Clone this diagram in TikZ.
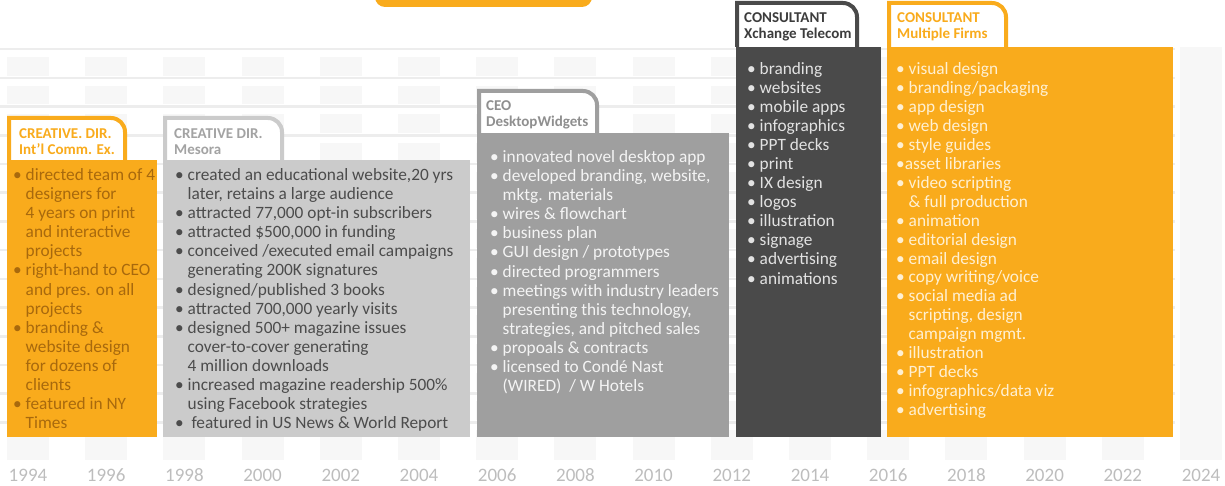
\documentclass[tikz,border=0pt]{standalone}
\usepackage{fontspec}
\setmainfont{Carlito}

\definecolor{cvorange}{HTML}{F9AB1C}
\definecolor{lightbox}{HTML}{CBCBCB}
\definecolor{midbox}{HTML}{9F9F9F}
\definecolor{darkbox}{HTML}{4A4A4A}
\definecolor{colbg}{HTML}{F7F7F7}
\definecolor{rowline}{HTML}{EDEDED}
\definecolor{yeargrey}{HTML}{BDBDBD}
\definecolor{txtone}{HTML}{A8690D}
\definecolor{txttwo}{HTML}{4C4C4C}
\definecolor{txtthree}{HTML}{F4F4F4}
\definecolor{txtfour}{HTML}{E2E2E2}
\definecolor{txtfive}{HTML}{FFF0D2}
\definecolor{tabtwo}{HTML}{A3A3A3}
\definecolor{tabthree}{HTML}{8F8F8F}
\definecolor{tabfour}{HTML}{3C3C3C}

\newcommand{\ind}{\hphantom{•\ }}

\tikzset{
  bodytxt/.style={anchor=base west, inner sep=0pt, font=\fontsize{17.3}{19}\selectfont},
  tabtxt/.style={anchor=base west, inner sep=0pt, font=\bfseries\fontsize{15}{16}\selectfont},
  yeartxt/.style={anchor=base, inner sep=0pt, text=yeargrey, font=\fontsize{19}{20}\selectfont},
  tabline/.style={line width=4pt, fill=white},
}

\begin{document}
\begin{tikzpicture}[x=1pt, y=-1pt]
	\useasboundingbox (0,0) rectangle (1225,486);
	% background grid
	\foreach \i in {0,...,15}
		\fill[colbg] ({7+78.2*\i},47) rectangle ++(42,413);
	\foreach \j in {0,...,13} {
		\fill[white] (0,{47+28.7*\j}) rectangle (1175,{57+28.7*\j});
		\fill[rowline] (0,{48+28.7*\j}) rectangle (1175,{50.5+28.7*\j});
	}
	% clipped tab at the top
	\fill[cvorange, rounded corners=10] (375,-20) rectangle (592,7);
	% tabs
	\draw[tabline, draw=cvorange] (9,160) -- (9,118) -- (111,118) arc[start angle=270, end angle=360, radius=14] -- (125,160);
	\draw[tabline, draw=lightbox] (165,160) -- (165,118) -- (268,118) arc[start angle=270, end angle=360, radius=14] -- (282,160);
	\draw[tabline, draw=midbox] (479,133) -- (479,91) -- (583,91) arc[start angle=270, end angle=360, radius=14] -- (597,133);
	\draw[tabline, draw=darkbox] (737,47) -- (737,3) -- (843,3) arc[start angle=270, end angle=360, radius=14] -- (857,47);
	\draw[tabline, draw=cvorange] (889,47) -- (889,3) -- (992,3) arc[start angle=270, end angle=360, radius=14] -- (1006,47);
	% boxes
	\fill[cvorange] (7,160) rectangle (157,437);
	\fill[lightbox] (163,160) rectangle (470,437);
	\fill[midbox] (477,133) rectangle (729,437);
	\fill[darkbox] (736,47) rectangle (881,437);
	\fill[cvorange] (887,47) rectangle (1173,437);
	% tab titles
	\node[tabtxt, text=cvorange] (t1a) at (19,139) {CREATIVE. DIR.};
	\node[tabtxt, text=cvorange] (t1b) at (19,155) {Int'l Comm. Ex.};
	\node[tabtxt, text=tabtwo] (t2a) at (174,139) {CREATIVE DIR.};
	\node[tabtxt, text=tabtwo] (t2b) at (174,155) {Mesora};
	\node[tabtxt, text=tabthree] (t3a) at (486,111) {CEO};
	\node[tabtxt, text=tabthree] (t3b) at (486,127) {DesktopWidgets};
	\node[tabtxt, text=tabfour] (t4a) at (744,23) {CONSULTANT};
	\node[tabtxt, text=tabfour] (t4b) at (744,39) {Xchange Telecom};
	\node[tabtxt, text=cvorange] (t5a) at (897,23) {CONSULTANT};
	\node[tabtxt, text=cvorange] (t5b) at (897,39) {Multiple Firms};
	% box texts
	\foreach \t [count=\i from 0] in {{• directed team of 4}, {\ind designers for}, {\ind 4 years on print}, {\ind and interactive}, {\ind projects}, {• right-hand to CEO}, {\ind and pres. on all}, {\ind projects}, {• branding \&}, {\ind website design}, {\ind for dozens of}, {\ind clients}, {• featured in NY}, {\ind Times}}
		\node[bodytxt, text=txtone] (a\i) at (13,{181+19*\i}) {\t};
	\foreach \t [count=\i from 0] in {{• created an educational website,20 yrs}, {\ind later, retains a large audience}, {• attracted 77,000 opt-in subscribers}, {• attracted \$500,000 in funding}, {• conceived /executed email campaigns}, {\ind generating 200K signatures}, {• designed/published 3 books}, {• attracted 700,000 yearly visits}, {• designed 500+ magazine issues}, {\ind cover-to-cover generating}, {\ind 4 million downloads}, {• increased magazine readership 500\%}, {\ind using Facebook strategies}, {•\ \ featured in US News \& World Report}}
		\node[bodytxt, text=txttwo] (b\i) at (175,{181+19*\i}) {\t};
	\foreach \t [count=\i from 0] in {{• innovated novel desktop app}, {• developed branding, website,}, {\ind mktg. materials}, {• wires \& flowchart}, {• business plan}, {• GUI design / prototypes}, {• directed programmers}, {• meetings with industry leaders}, {\ind presenting this technology,}, {\ind strategies, and pitched sales}, {• propoals \& contracts}, {• licensed to Condé Nast}, {\ind (WIRED)\ \ / W Hotels}}
		\node[bodytxt, text=txtthree] (c\i) at (490,{163+19*\i}) {\t};
	\foreach \t [count=\i from 0] in {branding, websites, mobile apps, infographics, PPT decks, print, IX design, logos, illustration, signage, advertising, animations}
		\node[bodytxt, text=txtfour] (d\i) at (747,{75+19*\i}) {• \t};
	\foreach \t [count=\i from 0] in {{• visual design}, {• branding/packaging}, {• app design}, {• web design}, {• style guides}, {•asset libraries}, {• video scripting}, {\ind \& full production}, {• animation}, {• editorial design}, {• email design}, {• copy writing/voice}, {• social media ad}, {\ind scripting, design}, {\ind campaign mgmt.}, {• illustration}, {• PPT decks}, {• infographics/data viz}, {• advertising}}
		\node[bodytxt, text=txtfive] (e\i) at (896,{75+18.9*\i}) {\t};
	% years
	\foreach \yr [count=\i from 0] in {1994,1996,...,2024}
		\node[yeartxt] (y\yr) at ({28+78.2*\i},481) {\yr};
\end{tikzpicture}
\end{document}
